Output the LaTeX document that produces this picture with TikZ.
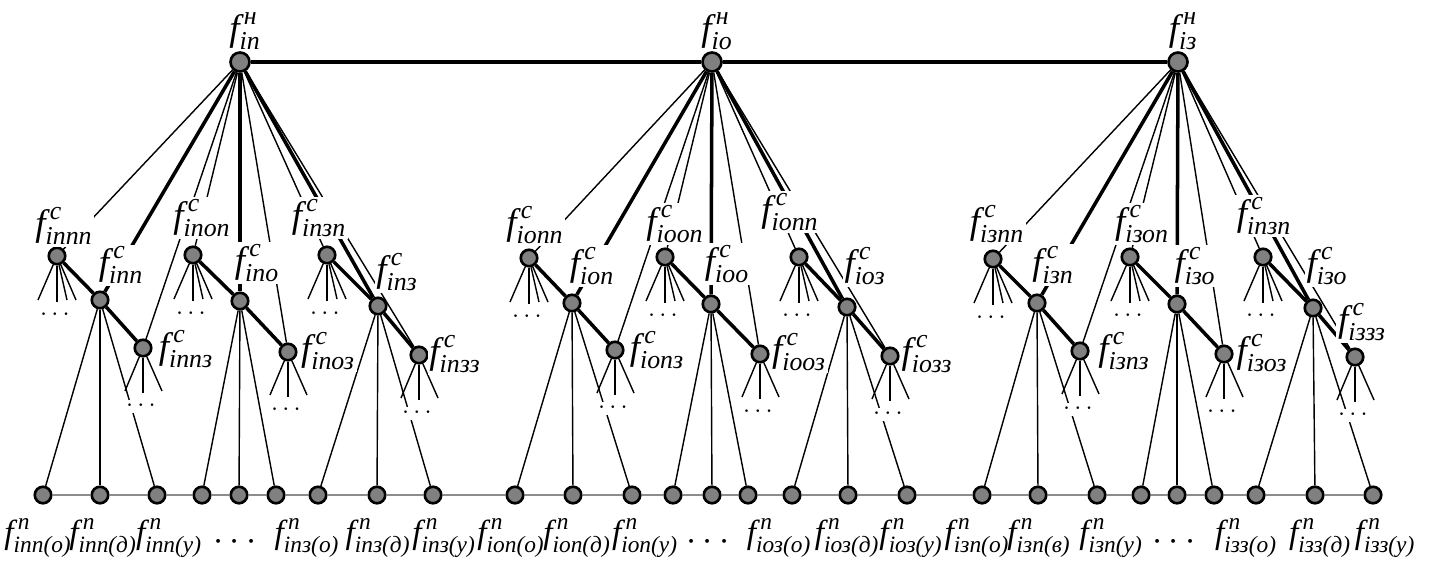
\documentclass[tikz,border=0pt]{standalone}
\usepackage{amsmath}
\usepackage{fontspec}
\setmainfont{Liberation Serif}
\newfontfamily\labfont{Liberation Serif}
\definecolor{knotgrey}{HTML}{808080}
\definecolor{railgrey}{HTML}{8C8C8C}
\newcommand{\ct}[1]{\text{\labfont\itshape #1}}
\newcommand{\fl}[2]{$\ct{f}^{\,\ct{#1}}_{\ct{#2}}$}

\begin{document}
\begin{tikzpicture}[
  x=0.02cm,
  y=-0.02cm,
  vtx/.style={circle, draw=black, fill=knotgrey, line width=1.5pt,
              minimum size=0.33cm, inner sep=0pt},
  topvtx/.style={vtx, minimum size=0.38cm},
  thinline/.style={line width=0.8pt},
  boldline/.style={line width=2pt},
  railline/.style={railgrey, line width=0.8pt},
  lbl/.style={fill=white, inner sep=1pt, font=\labfont\fontsize{21}{25}\selectfont},
  leaflbl/.style={inner sep=0pt, font=\labfont\fontsize{19}{23}\selectfont},
  etc/.style={fill=white, inner sep=0.5pt, font=\fontsize{15}{17}\selectfont},
  bigetc/.style={inner sep=0pt, font=\fontsize{20}{22}\selectfont}
]
  \useasboundingbox (0,0) rectangle (1433,562);

  % ---- upper level ------------------------------------------------------
  \node[topvtx] (tn) at (240,62) {};
  \node[topvtx] (to) at (712,62) {};
  \node[topvtx] (tz) at (1178,62) {};
  \draw[line width=2.2pt] (tn) -- (to) -- (tz);

  % ---- nine chains a -> b -> c, each b feeding three leaves --------------
  \foreach \k/\ax/\ay/\bx/\by/\cx/\cy/\t/\p/\q/\r in {
      1/57/256/100/300/143/348/tn/43/100/157,
      2/193/255/240/301/288/352/tn/202/239/276,
      3/327/255/378/306/419/355/tn/318/377/433,
      4/529/258/572/303/615/350/to/515/573/632,
      5/665/257/711/304/760/354/to/673/712/748,
      6/799/257/847/307/890/356/to/792/848/907,
      7/993/259/1037/303/1080/351/tz/982/1038/1097,
      8/1130/257/1177/304/1224/354/tz/1141/1177/1214,
      9/1263/257/1313/308/1355/357/tz/1256/1315/1373}{
    \node[vtx] (a\k) at (\ax,\ay) {};
    \node[vtx] (b\k) at (\bx,\by) {};
    \node[vtx] (c\k) at (\cx,\cy) {};
    \foreach \j/\x in {1/\p, 2/\q, 3/\r}
      \node[vtx] (l\k\j) at (\x,495) {};
    % fans below a and c
    \foreach \j/\dx/\dy in {1/-19/44, 2/0/46, 3/10/44, 4/19/44}
      \coordinate (a\k f\j) at ([shift={(\dx,\dy)}]a\k.center);
    \foreach \j/\dx/\dy in {1/-18/43, 2/0/45, 3/19/43}
      \coordinate (c\k f\j) at ([shift={(\dx,\dy)}]c\k.center);
    \foreach \j in {1,...,4}
      \draw[thinline] (a\k) -- (a\k f\j);
    \foreach \j in {1,2,3}
      \draw[thinline] (c\k) -- (c\k f\j);
    \foreach \j in {1,2,3}
      \draw[thinline] (b\k) -- (l\k\j);
    \draw[boldline] (a\k) -- (b\k) -- (c\k);
    \draw[thinline] (\t) -- (a\k);
    \draw[boldline] (\t) -- (b\k);
    \draw[thinline] (\t) -- (c\k);
    \node[etc] (da\k) at ([shift={(0,59)}]a\k.center) {$\cdots$};
    \node[etc] (dc\k) at ([shift={(0,58)}]c\k.center) {$\cdots$};
  }

  % ---- lower rail -------------------------------------------------------
  \draw[railline] (l11) -- (l12) -- (l13) -- (l21) -- (l22) -- (l23)
    -- (l31) -- (l32) -- (l33) -- (l41) -- (l42) -- (l43) -- (l51) -- (l52)
    -- (l53) -- (l61) -- (l62) -- (l63) -- (l71) -- (l72) -- (l73) -- (l81)
    -- (l82) -- (l83) -- (l91) -- (l92) -- (l93);

  % ---- labels -----------------------------------------------------------
  \node[lbl] (tnlab) at (245,31) {\fl{н}{iп}};
  \node[lbl] (tolab) at (717,31) {\fl{н}{iо}};
  \node[lbl] (tzlab) at (1183,31) {\fl{н}{iз}};

  \foreach \n/\x/\y/\s in {
      a1/64/226/iппп, b1/121/265/iпп, c1/186/349/iппз,
      a2/202/218/iпоп, b2/257/263/iпо, c2/328/351/iпоз,
      a3/319/218/iпзп, b3/397/272/iпз, c3/455/354/iпзз,
      a4/535/225/iопп, b4/592/266/iоп, c4/657/350/iопз,
      a5/675/224/iооп, b5/727/264/iоо, c5/799/352/iооз,
      a6/790/212/iопп, b6/865/266/iоз, c6/927/354/iозз,
      a7/997/224/iзпп, b7/1053/265/iзп, c7/1124/351/iзпз,
      a8/1142/224/iзоп, b8/1195/266/iзо, c8/1262/353/iзоз,
      a9/1264/216/iпзп, b9/1327/266/iзо, c9/1362/322/iззз}
    \node[lbl] (\n lab) at (\x,\y) {\fl{с}{\s}};

  \foreach \n/\x/\s in {
      l11/38/iпп(о), l12/103/iпп(д), l13/169/iпп(у),
      l31/307/iпз(о), l32/378/iпз(д), l33/444/iпз(у),
      l41/511/iоп(о), l42/577/iоп(д), l43/645/iоп(у),
      l61/779/iоз(о), l62/847/iоз(д), l63/911/iоз(у),
      l71/977/iзп(о), l72/1039/iзп(в), l73/1111/iзп(у),
      l91/1246/iзз(о), l92/1320/iзз(д), l93/1385/iзз(у)}
    \node[leaflbl] (\n lab) at (\x,538) {\fl{п}{\s}};

  \foreach \g/\x in {1/238, 2/711, 3/1177}
    \node[bigetc] (gap\g) at (\x,542) {$\cdots$};
\end{tikzpicture}
\end{document}
